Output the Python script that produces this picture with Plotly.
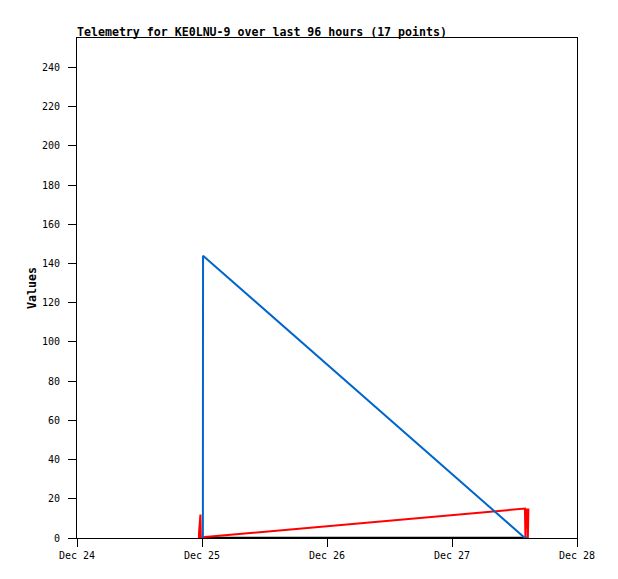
import plotly.graph_objects as go

# ---- data ----
blue_times = ["2024-12-25 00:10", "2024-12-25 00:12", "2024-12-27 14:00", "2024-12-27 14:40"]
blue_values = [0, 144, 0, 0]

red_times = ["2024-12-24 23:24", "2024-12-24 23:26", "2024-12-24 23:42", "2024-12-24 23:47",
             "2024-12-25 00:35", "2024-12-27 14:00", "2024-12-27 14:06", "2024-12-27 14:12",
             "2024-12-27 14:20", "2024-12-27 14:28", "2024-12-27 14:34", "2024-12-27 14:40"]
red_values = [0, 3, 12, 0, 0.5, 15, 0, 15, 5, 15, 0, 15]

black_times = ["2024-12-25 00:10", "2024-12-27 14:30"]
black_values = [0, 0]

title_text = "Telemetry for KE0LNU-9 over last 96 hours (17 points)"
y_label = "Values"
x_range = ["2024-12-24 00:00", "2024-12-28 00:00"]
y_range = [0, 255]
y_ticks = list(range(0, 241, 20))
x_tickvals = ["2024-12-24", "2024-12-25", "2024-12-26", "2024-12-27", "2024-12-28"]
x_ticktext = ["Dec 24", "Dec 25", "Dec 26", "Dec 27", "Dec 28"]

# page body has an 8px default margin, so the figure is drawn 8px smaller
W, H = 610, 571
L, R, T, B = 69, 41, 30, 41
mono = "DejaVu Sans Mono"

fig = go.Figure()
fig.add_trace(go.Scatter(x=black_times, y=black_values, mode="lines",
                         line=dict(color="#000000", width=2.5), showlegend=False))
fig.add_trace(go.Scatter(x=red_times, y=red_values, mode="lines",
                         line=dict(color="#FF0000", width=2), showlegend=False))
fig.add_trace(go.Scatter(x=blue_times, y=blue_values, mode="lines",
                         line=dict(color="#0066CC", width=2), showlegend=False))

fig.update_layout(
    width=W, height=H,
    margin=dict(l=L, r=R, t=T, b=B),
    paper_bgcolor="white", plot_bgcolor="white",
    title=dict(text="<b>" + title_text + "</b>", x=L / W, xanchor="left",
               xref="container", y=1 - 24 / H, yanchor="middle", yref="container",
               font=dict(family=mono, size=11.6, color="black")),
    xaxis=dict(type="date", range=x_range, tickvals=x_tickvals, ticktext=x_ticktext,
               showgrid=False, zeroline=False, showline=True, linecolor="black",
               linewidth=1, mirror=True, ticks="outside", ticklen=8, tickcolor="black",
               tickfont=dict(family=mono, size=10, color="black")),
    yaxis=dict(range=y_range, tickvals=y_ticks, showgrid=False, zeroline=False,
               showline=True, linecolor="black", linewidth=1, mirror=True,
               ticks="outside", ticklen=8, tickcolor="black", ticklabelstandoff=6,
               tickfont=dict(family=mono, size=10, color="black")),
    annotations=[dict(text="<b>" + y_label + "</b>", textangle=-90,
                      xref="paper", yref="paper", x=-(L - 24) / (W - L - R), y=0.5,
                      xanchor="center", yanchor="middle", showarrow=False,
                      font=dict(family=mono, size=11.6, color="black"))],
)

fig.write_html("out.html")
